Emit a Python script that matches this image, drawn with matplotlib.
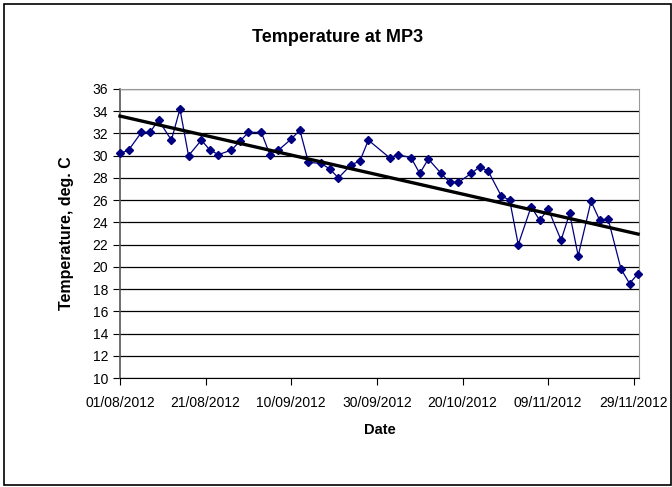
import matplotlib
matplotlib.use("Agg")
import matplotlib.pyplot as plt
import matplotlib.dates as mdates
from matplotlib.patches import Rectangle
import numpy as np
import pandas as pd

plt.rcParams['font.family'] = ['Liberation Sans', 'DejaVu Sans']

dates = ['2012-08-01', '2012-08-03', '2012-08-06', '2012-08-08', '2012-08-10',
         '2012-08-13', '2012-08-15', '2012-08-17', '2012-08-20', '2012-08-22',
         '2012-08-24', '2012-08-27', '2012-08-29', '2012-08-31', '2012-09-03',
         '2012-09-05', '2012-09-07', '2012-09-10', '2012-09-12', '2012-09-14',
         '2012-09-17', '2012-09-19', '2012-09-21', '2012-09-24', '2012-09-26',
         '2012-09-28', '2012-10-03', '2012-10-05', '2012-10-08', '2012-10-10',
         '2012-10-12', '2012-10-15', '2012-10-17', '2012-10-19', '2012-10-22',
         '2012-10-24', '2012-10-26', '2012-10-29', '2012-10-31', '2012-11-02',
         '2012-11-05', '2012-11-07', '2012-11-09', '2012-11-12', '2012-11-14',
         '2012-11-16', '2012-11-19', '2012-11-21', '2012-11-23', '2012-11-26',
         '2012-11-28', '2012-11-30']
temps = [30.2, 30.5, 32.1, 32.1, 33.2, 31.4, 34.2, 30.0, 31.4, 30.5,
         30.1, 30.5, 31.3, 32.1, 32.1, 30.1, 30.5, 31.5, 32.3, 29.4,
         29.3, 28.8, 28.0, 29.2, 29.5, 31.4, 29.8, 30.1, 29.8, 28.4,
         29.7, 28.4, 27.6, 27.6, 28.4, 29.0, 28.6, 26.4, 26.0, 22.0,
         25.4, 24.2, 25.2, 22.4, 24.8, 21.0, 25.9, 24.2, 24.3, 19.8,
         18.5, 19.4]
y_ticks = list(range(10, 37, 2))
x_start, x_end = '2012-08-01', '2012-11-30'

x = pd.to_datetime(dates)
xn = mdates.date2num(x)
y = np.array(temps)

# linear trendline, like Excel's
coef = np.polyfit(xn, y, 1)
trend = np.polyval(coef, xn[[0, -1]])

fig = plt.figure(figsize=(6.72, 4.87), dpi=100)
ax = fig.add_axes([120 / 672, 1 - 378 / 487, 519 / 672, 289 / 487])

ax.set_ylim(10, 36)
ax.set_yticks(y_ticks)
ax.set_xlim(mdates.date2num(pd.Timestamp(x_start)), mdates.date2num(pd.Timestamp(x_end)) + 0.2)
ax.set_xticks(mdates.date2num(pd.date_range(x_start, periods=7, freq='20D')))
ax.xaxis.set_major_formatter(mdates.DateFormatter('%d/%m/%Y'))

ax.grid(axis='y', color='black', linewidth=0.9)
ax.set_axisbelow(True)

ax.plot(xn, y, color='#000080', linewidth=0.9, marker='D', markersize=4.2,
        clip_on=False, zorder=3)
ax.plot(xn[[0, -1]], trend, color='black', linewidth=2.4, zorder=4, clip_on=False)

for s in ['top', 'right']:
    ax.spines[s].set_color('#999999')
ax.spines['left'].set_color('#555555')
ax.spines['left'].set_linewidth(1.2)
ax.spines['bottom'].set_color('black')
ax.tick_params(direction='out', length=5, labelsize=10, color='black')
ax.tick_params(axis='x', pad=8)

fig.text(338 / 672, 1 - 37 / 487, 'Temperature at MP3', fontsize=13,
         fontweight='bold', ha='center', va='center')
ax.set_xlabel('Date', fontsize=10.5, fontweight='bold', labelpad=9)
ax.set_ylabel('Temperature, deg. C', fontsize=11.5, fontweight='bold', labelpad=13)

fig.patches.append(Rectangle((4 / 672, 2 / 487), 667 / 672, 481 / 487,
                             transform=fig.transFigure, fill=False,
                             edgecolor='black', linewidth=1.2))

fig.savefig('out.png', dpi=100)
